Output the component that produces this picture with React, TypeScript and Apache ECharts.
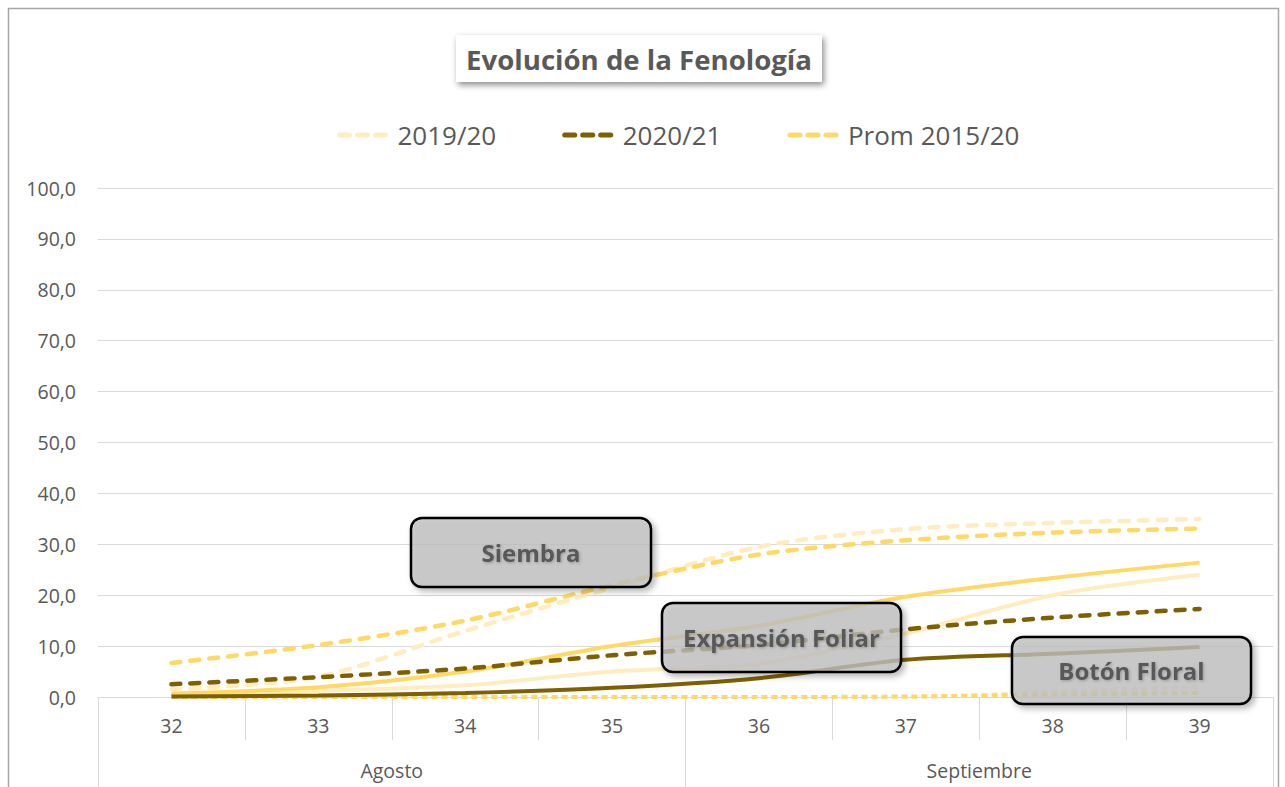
import React, { useEffect, useRef } from "react";
import * as echarts from "echarts";

const weeks = ["32", "33", "34", "35", "36", "37", "38", "39"];
const months = ["Agosto", "Septiembre"];
const yTicks = { min: 0, max: 100, interval: 10 };

const legendNames = ["2019/20", "2020/21", "Prom 2015/20"];

// Siembra (dashed)
const siembra1920 = [1.5, 4, 13, 21.5, 29.5, 33, 34.2, 35];
const siembra2021 = [2.5, 3.9, 5.6, 8.2, 10.2, 13.3, 15.6, 17.3];
const siembraProm = [6.7, 10.2, 15, 22, 28, 30.8, 32.3, 33.1];
// Expansión Foliar (solid)
const expansion1920 = [0.2, 1.2, 2.3, 5, 6.5, 12.5, 20, 24];
const expansion2021 = [0.1, 0.3, 0.8, 1.8, 3.7, 7.3, 8.5, 9.8];
const expansionProm = [0.7, 1.9, 5, 10, 14, 19.7, 23.4, 26.4];
// Botón Floral (square dot)
const boton1920 = [0, 0, 0, 0, 0, 0, 1, 2];
const botonProm = [0, 0, 0, 0, 0, 0.1, 0.5, 0.8];

const callouts = ["Siembra", "Expansión Foliar", "Botón Floral"];
const title = "Evolución de la Fenología";

const C_LIGHT = "#FFEDBF";
const C_DARK = "#7F6000";
const C_PROM = "#FFD966";
const TXT = "#595959";
const FONT = "'Open Sans', sans-serif";

export default function App() {
  const ref = useRef<HTMLDivElement>(null);
  useEffect(() => {
    if (!ref.current) return;
    const chart = echarts.init(ref.current, null, { renderer: "svg" });
    const dashed = (name: string, data: number[], color: string) => ({
      name,
      type: "line",
      data,
      smooth: 0.3,
      symbol: "none",
      lineStyle: { color, width: 4.5, type: [9, 10], cap: "round" },
      itemStyle: { color },
    });
    const solid = (name: string, data: number[], color: string) => ({
      name,
      type: "line",
      data,
      smooth: 0.3,
      symbol: "none",
      lineStyle: { color, width: 4 },
      itemStyle: { color },
    });
    const dotted = (name: string, data: number[], color: string) => ({
      name,
      type: "line",
      data,
      smooth: 0.3,
      symbol: "none",
      lineStyle: { color, width: 4, type: [6, 4] },
      itemStyle: { color },
    });
    const box = (label: string, x: number, y: number, w: number, h: number) => ({
      type: "group",
      z: 100,
      children: [
        {
          type: "rect",
          z: 100,
          shape: { x, y, width: w, height: h, r: 11 },
          style: {
            fill: "rgba(195,195,195,0.75)",
            stroke: "#000",
            lineWidth: 2.5,
            shadowColor: "rgba(0,0,0,0.35)",
            shadowBlur: 6,
            shadowOffsetX: 3,
            shadowOffsetY: 3,
          },
        },
        {
          type: "text",
          z: 101,
          x: x + w / 2,
          y: y + h / 2,
          style: {
            text: label,
            fill: TXT,
            font: `bold 24px ${FONT}`,
            align: "center",
            verticalAlign: "middle",
            textShadowColor: "rgba(0,0,0,0.25)",
            textShadowBlur: 3,
            textShadowOffsetX: 1,
            textShadowOffsetY: 1,
          },
        },
      ],
    });
    chart.setOption({
      animation: false,
      textStyle: { fontFamily: FONT },
      legend: {
        data: legendNames,
        left: 332,
        top: 117,
        itemWidth: 53,
        itemHeight: 14,
        itemGap: 66,
        itemStyle: { opacity: 0 },
        lineStyle: { width: 5, type: [10, 8], cap: "round" },
        textStyle: { fontSize: 26, color: TXT, fontFamily: FONT },
      },
      grid: { left: 98, right: 12, top: 188, bottom: 90 },
      xAxis: [
        {
          type: "category",
          data: weeks,
          boundaryGap: true,
          axisLine: { show: true, lineStyle: { color: "#D9D9D9", width: 1 } },
          axisTick: { show: true, interval: 0, length: 43, lineStyle: { color: "#D9D9D9" } },
          axisLabel: { fontSize: 19.5, color: TXT, margin: 18, fontFamily: FONT },
        },
        {
          type: "category",
          data: months,
          position: "bottom",
          offset: 43,
          boundaryGap: true,
          axisLine: { show: false },
          axisTick: { show: true, interval: 0, length: 60, lineStyle: { color: "#D9D9D9" } },
          axisLabel: { fontSize: 19.5, color: TXT, margin: 20, fontFamily: FONT },
        },
      ],
      yAxis: {
        type: "value",
        min: yTicks.min,
        max: yTicks.max,
        interval: yTicks.interval,
        axisLine: { show: false },
        axisTick: { show: false },
        splitLine: { lineStyle: { color: "#D9D9D9", width: 1 } },
        axisLabel: {
          fontSize: 19.5,
          color: TXT,
          margin: 22,
          fontFamily: FONT,
          formatter: (v: number) => v.toFixed(1).replace(".", ","),
        },
      },
      series: [
        dotted("Botón Floral 2019/20", boton1920, C_LIGHT),
        dotted("Botón Floral Prom 2015/20", botonProm, C_PROM),
        solid("Expansión Foliar 2019/20", expansion1920, C_LIGHT),
        solid("Expansión Foliar Prom 2015/20", expansionProm, C_PROM),
        solid("Expansión Foliar 2020/21", expansion2021, C_DARK),
        dashed(legendNames[0], siembra1920, C_LIGHT),
        dashed(legendNames[2], siembraProm, C_PROM),
        dashed(legendNames[1], siembra2021, C_DARK),
      ],
      graphic: [
        {
          type: "rect",
          z: 0,
          silent: true,
          shape: { x: 8.5, y: 8.5, width: 1270, height: 820 },
          style: { fill: "none", stroke: "#A6A6A6", lineWidth: 1.5 },
        },
        {
          type: "group",
          z: 100,
          children: [
            {
              type: "rect",
              z: 100,
              shape: { x: 456, y: 35, width: 366, height: 47 },
              style: {
                fill: "#fff",
                shadowColor: "rgba(0,0,0,0.45)",
                shadowBlur: 6,
                shadowOffsetX: 2,
                shadowOffsetY: 3,
              },
            },
            {
              type: "text",
              z: 101,
              x: 639,
              y: 58.5,
              style: {
                text: title,
                fill: TXT,
                font: `bold 27.6px ${FONT}`,
                align: "center",
                verticalAlign: "middle",
              },
            },
          ],
        },
        box(callouts[0], 411, 518, 240, 69),
        box(callouts[1], 662, 603, 239, 69),
        box(callouts[2], 1012, 637, 239, 67),
      ],
    });
    return () => chart.dispose();
  }, []);
  return (
    <div
      ref={ref}
      style={{ position: "fixed", left: 0, top: 0, width: 1285, height: 787, background: "#fff" }}
    />
  );
}
